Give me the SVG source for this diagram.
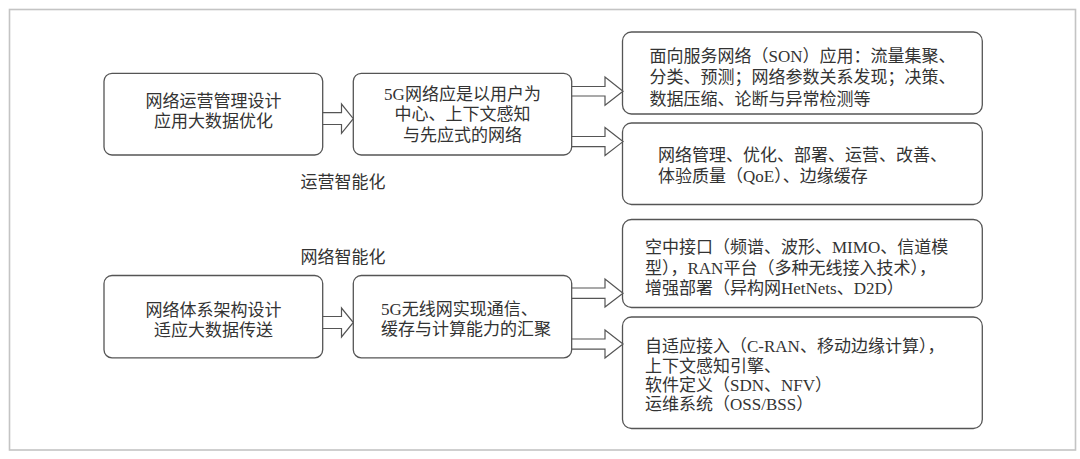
<svg xmlns="http://www.w3.org/2000/svg" width="1080" height="459" viewBox="0 0 1080 459">
<style>
.frame{fill:#fff;stroke:#c4c4c4;stroke-width:1.6}
.box{fill:#fff;stroke:#555;stroke-width:1.3}
.arr{fill:#fff;stroke:#555;stroke-width:1.2;stroke-linejoin:miter}
text{font-family:"Liberation Serif","Noto Sans CJK SC",serif;font-size:17px;fill:#333}
.c{text-anchor:middle}
</style>
<rect width="1080" height="459" fill="#fff"/>
<rect class="frame" x="9.5" y="9.5" width="1066" height="440.5"/>

<g id="label-ops"><text class="c" x="343" y="188">运营智能化</text></g>
<g id="label-net"><text class="c" x="343" y="263">网络智能化</text></g>

<g id="A1">
<rect class="box" x="104" y="73.3" width="218.7" height="81.7" rx="8"/>
<text class="c" x="213.5" y="106.5">网络运营管理设计</text>
<text class="c" x="213.5" y="127">应用大数据优化</text>
</g>
<g id="B1">
<rect class="box" x="353.3" y="73.3" width="218.4" height="81.7" rx="8"/>
<text class="c" x="462.5" y="99.5">5G网络应是以用户为</text>
<text class="c" x="462.5" y="120">中心、上下文感知</text>
<text class="c" x="462.5" y="140.5">与先应式的网络</text>
</g>
<g id="C1">
<rect class="box" x="622.5" y="32" width="359.8" height="82" rx="9"/>
<text x="649.5" y="61.5">面向服务网络（SON）应用：流量集聚、</text>
<text x="649.5" y="83">分类、预测；网络参数关系发现；决策、</text>
<text x="649.5" y="104.5">数据压缩、论断与异常检测等</text>
</g>
<g id="C2">
<rect class="box" x="622.5" y="123" width="359.8" height="81.5" rx="9"/>
<text x="658" y="160.5">网络管理、优化、部署、运营、改善、</text>
<text x="658" y="181.5">体验质量（QoE）、边缘缓存</text>
</g>
<g id="A2">
<rect class="box" x="104" y="275.5" width="218.7" height="82.3" rx="8"/>
<text class="c" x="213.5" y="315.5">网络体系架构设计</text>
<text class="c" x="213.5" y="335.5">适应大数据传送</text>
</g>
<g id="B2">
<rect class="box" x="353.3" y="275.5" width="218.4" height="82.3" rx="8"/>
<text x="381" y="315">5G无线网实现通信、</text>
<text x="381" y="335">缓存与计算能力的汇聚</text>
</g>
<g id="C3">
<rect class="box" x="622.5" y="219.5" width="359.8" height="88" rx="9"/>
<text x="645" y="253">空中接口（频谱、波形、MIMO、信道模</text>
<text x="645" y="273.5">型），RAN平台（多种无线接入技术），</text>
<text x="645" y="294">增强部署（异构网HetNets、D2D）</text>
</g>
<g id="C4">
<rect class="box" x="622.5" y="317" width="359.8" height="111.5" rx="9"/>
<text x="645" y="351.5">自适应接入（C-RAN、移动边缘计算），</text>
<text x="645" y="371.5">上下文感知引擎、</text>
<text x="645" y="391">软件定义（SDN、NFV）</text>
<text x="645" y="410">运维系统（OSS/BSS）</text>
</g>

<g id="connectors">
<polygon class="arr" points="322.7,112.7 341.5,112.7 341.5,104 353.3,118.7 341.5,133.3 341.5,124.5 322.7,124.5"/>
<polygon class="arr" points="571.7,86.5 605,86.5 605,77 623,91.2 605,105.3 605,96 571.7,96"/>
<polygon class="arr" points="571.7,136.5 605,136.5 605,127.5 623,141.6 605,155.5 605,146.7 571.7,146.7"/>
<polygon class="arr" points="322.7,316.5 341.5,316.5 341.5,308 353.3,322.5 341.5,337 341.5,328.5 322.7,328.5"/>
<polygon class="arr" points="571.7,288 605,288 605,279 623,293.2 605,307 605,298.3 571.7,298.3"/>
<polygon class="arr" points="571.7,339 605,339 605,330 623,344 605,358 605,349.2 571.7,349.2"/>
</g>
</svg>
